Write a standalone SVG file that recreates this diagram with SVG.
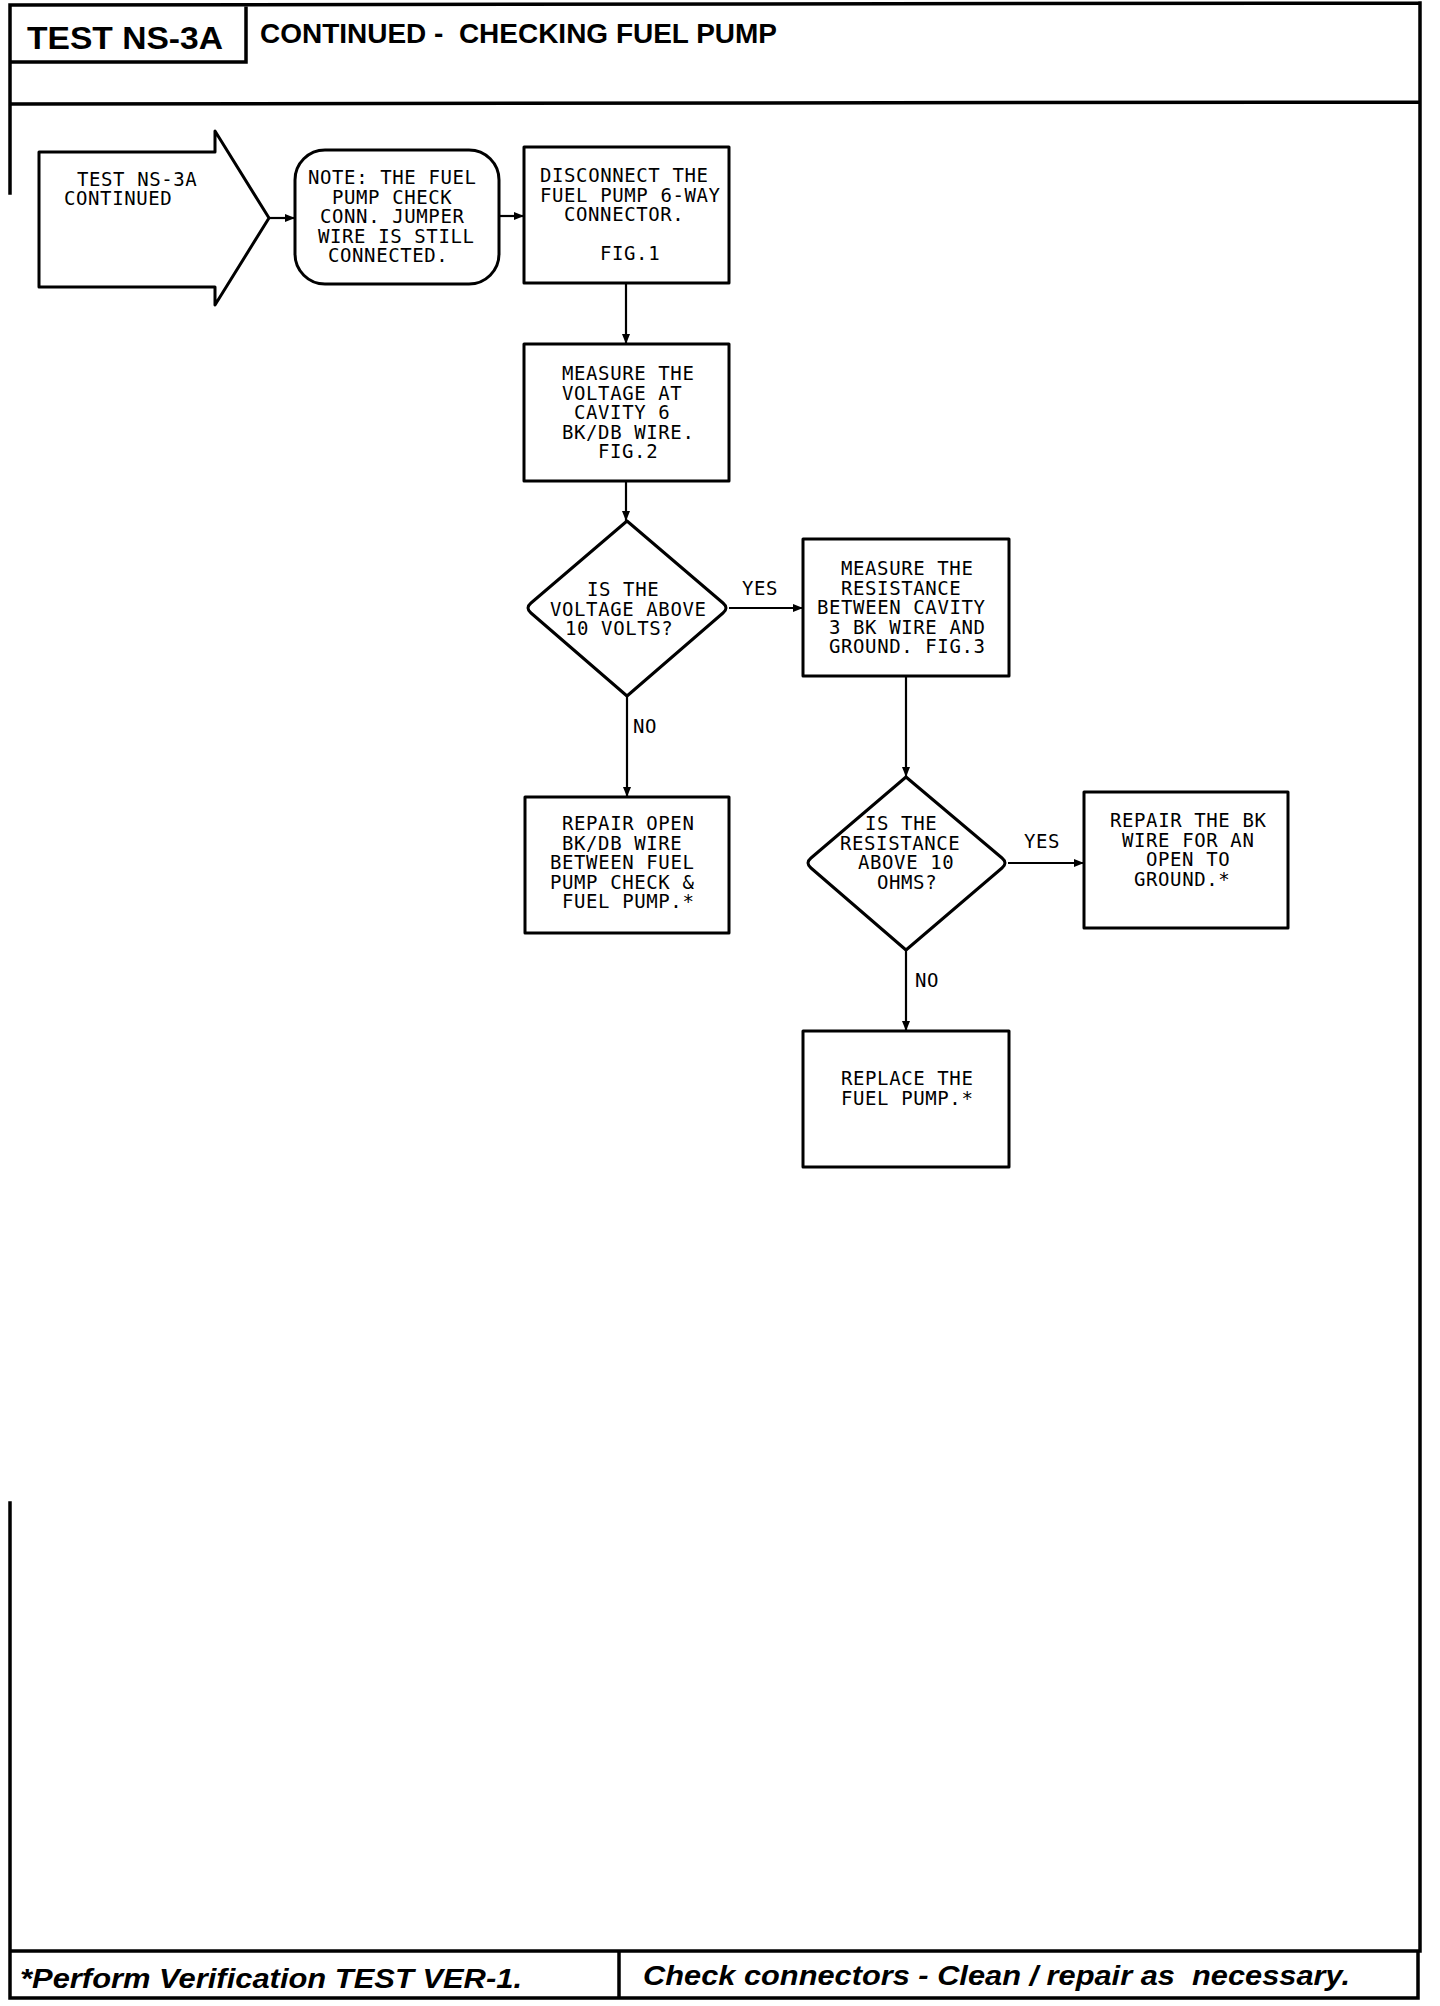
<svg xmlns="http://www.w3.org/2000/svg" width="1440" height="2006" viewBox="0 0 1440 2006">
<style>
.frame{stroke:#000;stroke-width:3.5;fill:none;stroke-linecap:square}
.node{fill:#fff;stroke:#000;stroke-width:3;stroke-linejoin:round}
.t{font-family:"DejaVu Sans Mono","Liberation Mono",monospace;font-size:19px;letter-spacing:0.6px;fill:#000}
.conn{stroke:#000;stroke-width:2.2;fill:none}
.hdr{font-family:"Liberation Sans",Arial,sans-serif;font-weight:bold;fill:#000}
.ftr{font-family:"Liberation Sans",Arial,sans-serif;font-weight:bold;font-style:italic;font-size:27px;fill:#000}
</style>
<defs>
<marker id="ah" markerWidth="10" markerHeight="8" refX="10" refY="4" orient="auto" markerUnits="userSpaceOnUse"><path d="M0,0 L10,4 L0,8 Z" fill="#000"/></marker>
</defs>
<rect x="0" y="0" width="1440" height="2006" fill="#fff"/>
<g id="frame">
<path class="frame" d="M10,5 L1420,3 M10,5 L10,193 M10,62 L246,62 L246,5 M10,104 L1420,102 M1420,3 L1420,1951 M10,1503 L10,1998 L1418,1998 L1418,1951 M10,1951 L1418,1951 M619,1951 L619,1998"/>
<text class="hdr" x="27" y="49" font-size="32" textLength="196" lengthAdjust="spacingAndGlyphs">TEST NS-3A</text>
<text class="hdr" x="260" y="43" font-size="27" textLength="517" lengthAdjust="spacingAndGlyphs" xml:space="preserve">CONTINUED -  CHECKING FUEL PUMP</text>
<text class="ftr" x="20" y="1988" textLength="502" lengthAdjust="spacingAndGlyphs">*Perform Verification TEST VER-1.</text>
<text class="ftr" x="643" y="1985" textLength="707" lengthAdjust="spacingAndGlyphs" xml:space="preserve">Check connectors - Clean / repair as  necessary.</text>
</g>
<g id="connectors">
<path class="conn" d="M269,218 L295,218" marker-end="url(#ah)"/>
<path class="conn" d="M499,216 L524,216" marker-end="url(#ah)"/>
<path class="conn" d="M626,283 L626,344" marker-end="url(#ah)"/>
<path class="conn" d="M626,481 L626,521" marker-end="url(#ah)"/>
<path class="conn" d="M729,608 L803,608" marker-end="url(#ah)"/>
<path class="conn" d="M627,696 L627,797" marker-end="url(#ah)"/>
<path class="conn" d="M906,676 L906,777" marker-end="url(#ah)"/>
<path class="conn" d="M1008,863 L1084,863" marker-end="url(#ah)"/>
<path class="conn" d="M906,950 L906,1031" marker-end="url(#ah)"/>
<text class="t" x="742" y="595">YES</text>
<text class="t" x="633" y="733">NO</text>
<text class="t" x="1024" y="848">YES</text>
<text class="t" x="915" y="987">NO</text>
</g>
<g id="n-start">
<path class="node" d="M39,152 L215,152 L215,131 L269,218 L215,305 L215,287 L39,287 Z"/>
<text class="t" x="77" y="186">TEST NS-3A</text>
<text class="t" x="64" y="205">CONTINUED</text>
</g>
<g id="n-note">
<rect class="node" x="295" y="150" width="204" height="134" rx="30"/>
<text class="t" x="308" y="184">NOTE: THE FUEL</text>
<text class="t" x="332" y="203.5">PUMP CHECK</text>
<text class="t" x="320" y="223">CONN. JUMPER</text>
<text class="t" x="318" y="242.5">WIRE IS STILL</text>
<text class="t" x="328" y="262">CONNECTED.</text>
</g>
<g id="n-disconnect">
<rect class="node" x="524" y="147" width="205" height="136"/>
<text class="t" x="540" y="182">DISCONNECT THE</text>
<text class="t" x="540" y="201.5">FUEL PUMP 6-WAY</text>
<text class="t" x="564" y="221">CONNECTOR.</text>
<text class="t" x="600" y="260">FIG.1</text>
</g>
<g id="n-measure-voltage">
<rect class="node" x="524" y="344" width="205" height="137"/>
<text class="t" x="562" y="380">MEASURE THE</text>
<text class="t" x="562" y="399.5">VOLTAGE AT</text>
<text class="t" x="574" y="419">CAVITY 6</text>
<text class="t" x="562" y="438.5">BK/DB WIRE.</text>
<text class="t" x="598" y="458">FIG.2</text>
</g>
<g id="n-voltage-check">
<path class="node" d="M627,521 L723,603 Q729,608 723,613 L627,696 L531,613 Q525,608 531,603 Z"/>
<text class="t" x="587" y="596">IS THE</text>
<text class="t" x="550" y="615.5">VOLTAGE ABOVE</text>
<text class="t" x="565" y="635">10 VOLTS?</text>
</g>
<g id="n-measure-resistance">
<rect class="node" x="803" y="539" width="206" height="137"/>
<text class="t" x="841" y="575">MEASURE THE</text>
<text class="t" x="841" y="594.5">RESISTANCE</text>
<text class="t" x="817" y="614">BETWEEN CAVITY</text>
<text class="t" x="829" y="633.5">3 BK WIRE AND</text>
<text class="t" x="829" y="653">GROUND. FIG.3</text>
</g>
<g id="n-repair-open">
<rect class="node" x="525" y="797" width="204" height="136"/>
<text class="t" x="562" y="830">REPAIR OPEN</text>
<text class="t" x="562" y="849.5">BK/DB WIRE</text>
<text class="t" x="550" y="869">BETWEEN FUEL</text>
<text class="t" x="550" y="888.5">PUMP CHECK &amp;</text>
<text class="t" x="562" y="908">FUEL PUMP.*</text>
</g>
<g id="n-resistance-check">
<path class="node" d="M906,777 L1002,858 Q1008,863 1002,868 L906,950 L811,868 Q805,863 811,858 Z"/>
<text class="t" x="865" y="830">IS THE</text>
<text class="t" x="840" y="849.5">RESISTANCE</text>
<text class="t" x="858" y="869">ABOVE 10</text>
<text class="t" x="877" y="888.5">OHMS?</text>
</g>
<g id="n-repair-bk">
<rect class="node" x="1084" y="792" width="204" height="136"/>
<text class="t" x="1110" y="827">REPAIR THE BK</text>
<text class="t" x="1122" y="846.5">WIRE FOR AN</text>
<text class="t" x="1146" y="866">OPEN TO</text>
<text class="t" x="1134" y="885.5">GROUND.*</text>
</g>
<g id="n-replace">
<rect class="node" x="803" y="1031" width="206" height="136"/>
<text class="t" x="841" y="1085">REPLACE THE</text>
<text class="t" x="841" y="1104.5">FUEL PUMP.*</text>
</g>
</svg>
